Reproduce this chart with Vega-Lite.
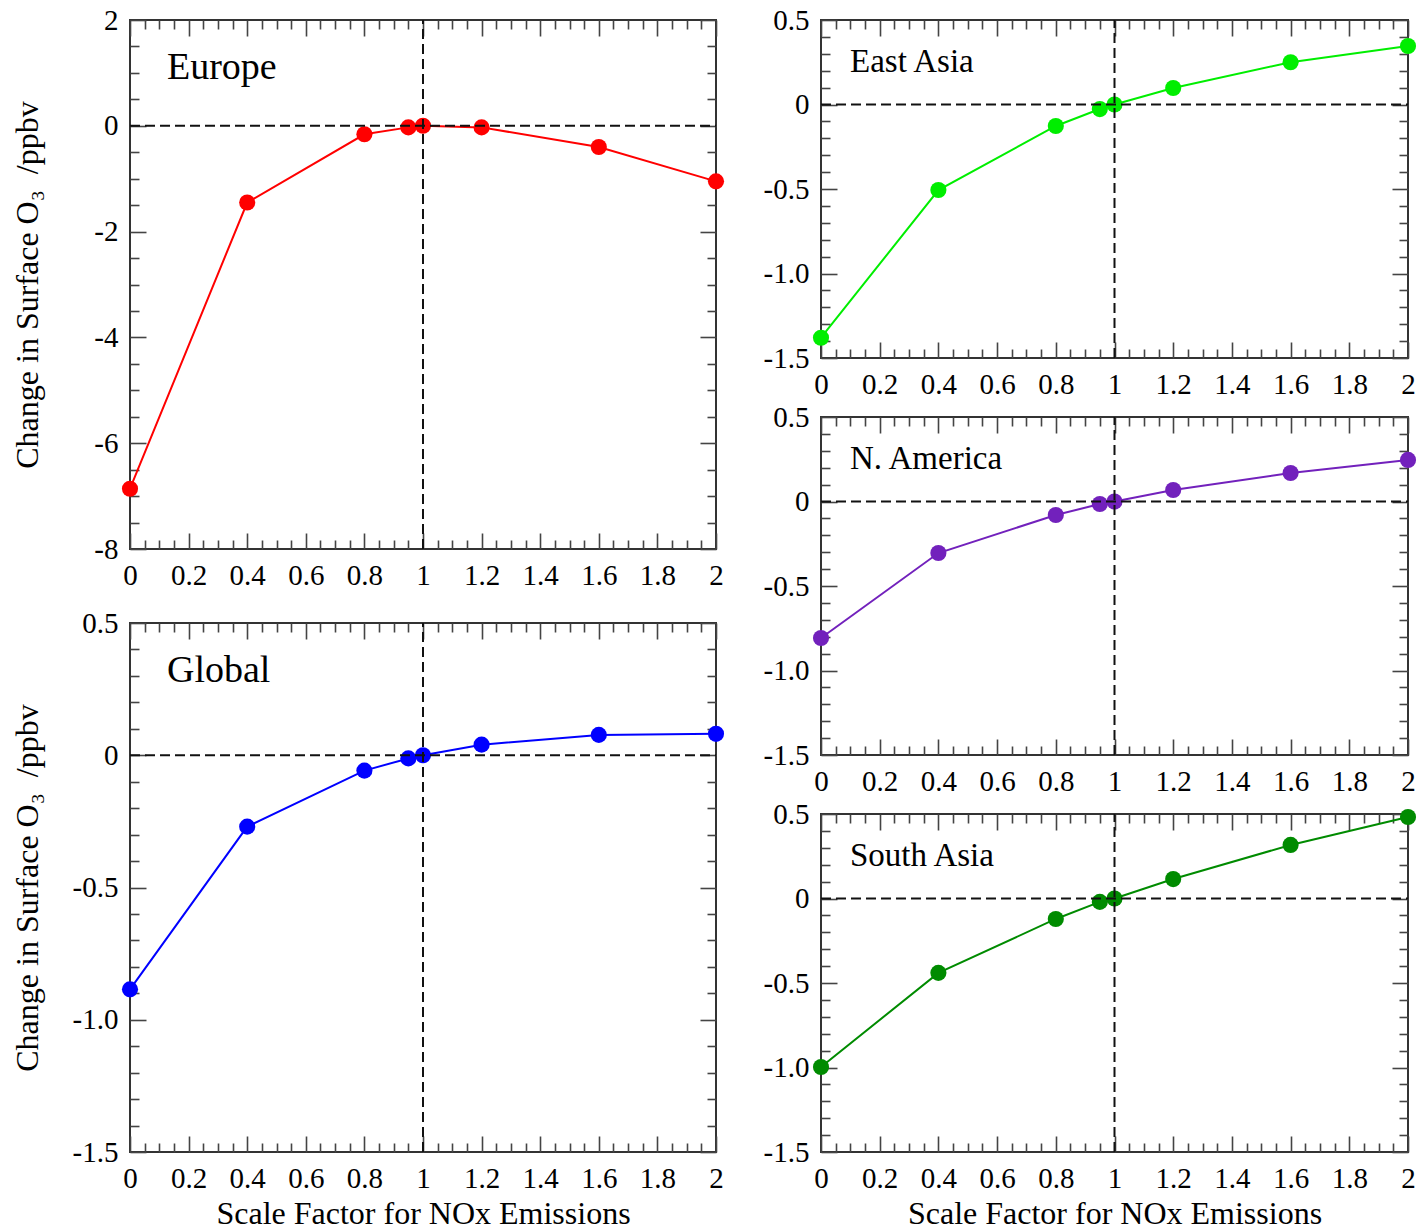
{
  "$schema": "https://vega.github.io/schema/vega-lite/v6.json",
  "background": "white",
  "padding": {"left": 9, "top": 5, "right": 5, "bottom": 2},
  "config": {
    "font": "Liberation Serif",
    "view": {"stroke": "#333333", "strokeWidth": 2},
    "axis": {
      "domain": false, "grid": false, "tickColor": "#444444", "tickWidth": 1.6,
      "labelFont": "Liberation Serif", "labelFontSize": 29, "labelColor": "black",
      "labelFlush": false, "labelOverlap": false,
      "titleFont": "Liberation Serif", "titleFontSize": 32, "titleFontWeight": "normal", "titleColor": "black"
    },
    "title": {"font": "Liberation Serif", "fontWeight": "normal", "color": "black"}
  },
  "data": {"values": [
    {"region": "Europe", "factor": 0, "o3": -6.86},
    {"region": "Europe", "factor": 0.4, "o3": -1.45},
    {"region": "Europe", "factor": 0.8, "o3": -0.16},
    {"region": "Europe", "factor": 0.95, "o3": -0.03},
    {"region": "Europe", "factor": 1, "o3": 0},
    {"region": "Europe", "factor": 1.2, "o3": -0.03},
    {"region": "Europe", "factor": 1.6, "o3": -0.4},
    {"region": "Europe", "factor": 2, "o3": -1.05},
    {"region": "Global", "factor": 0, "o3": -0.885},
    {"region": "Global", "factor": 0.4, "o3": -0.27},
    {"region": "Global", "factor": 0.8, "o3": -0.058},
    {"region": "Global", "factor": 0.95, "o3": -0.012},
    {"region": "Global", "factor": 1, "o3": 0},
    {"region": "Global", "factor": 1.2, "o3": 0.04},
    {"region": "Global", "factor": 1.6, "o3": 0.077},
    {"region": "Global", "factor": 2, "o3": 0.081},
    {"region": "East Asia", "factor": 0, "o3": -1.38},
    {"region": "East Asia", "factor": 0.4, "o3": -0.506},
    {"region": "East Asia", "factor": 0.8, "o3": -0.127},
    {"region": "East Asia", "factor": 0.95, "o3": -0.027},
    {"region": "East Asia", "factor": 1, "o3": 0},
    {"region": "East Asia", "factor": 1.2, "o3": 0.098},
    {"region": "East Asia", "factor": 1.6, "o3": 0.25},
    {"region": "East Asia", "factor": 2, "o3": 0.346},
    {"region": "N. America", "factor": 0, "o3": -0.808},
    {"region": "N. America", "factor": 0.4, "o3": -0.305},
    {"region": "N. America", "factor": 0.8, "o3": -0.08},
    {"region": "N. America", "factor": 0.95, "o3": -0.015},
    {"region": "N. America", "factor": 1, "o3": 0},
    {"region": "N. America", "factor": 1.2, "o3": 0.068},
    {"region": "N. America", "factor": 1.6, "o3": 0.169},
    {"region": "N. America", "factor": 2, "o3": 0.246},
    {"region": "South Asia", "factor": 0, "o3": -0.997},
    {"region": "South Asia", "factor": 0.4, "o3": -0.44},
    {"region": "South Asia", "factor": 0.8, "o3": -0.121},
    {"region": "South Asia", "factor": 0.95, "o3": -0.02},
    {"region": "South Asia", "factor": 1, "o3": 0},
    {"region": "South Asia", "factor": 1.2, "o3": 0.115},
    {"region": "South Asia", "factor": 1.6, "o3": 0.317},
    {"region": "South Asia", "factor": 2, "o3": 0.482}
  ]},
  "spacing": 36,
  "hconcat": [
    {
      "spacing": 74,
      "bounds": "flush",
      "vconcat": [
        {
          "width": 586, "height": 529,
          "title": {"text": "Europe", "orient": "top", "anchor": "start", "frame": "group", "offset": -81, "dx": 37, "fontSize": 38},
          "resolve": {"axis": {"x": "independent", "y": "independent"}},
          "layer": [
            {
              "transform": [{"filter": "datum.region == 'Europe'"}],
              "mark": {"type": "line", "color": "#ff0000", "strokeWidth": 2},
              "encoding": {
                "x": {"field": "factor", "type": "quantitative", "scale": {"domain": [0, 2], "nice": false, "zero": false},
                      "axis": {"orient": "bottom", "values": [0,0.2,0.4,0.6,0.8,1,1.2,1.4,1.6,1.8,2], "tickSize": -16, "labelPadding": 28, "labelExpr": "'' + datum.value", "title": null}},
                "y": {"field": "o3", "type": "quantitative", "scale": {"domain": [-8, 2], "nice": false, "zero": false},
                      "axis": {"orient": "left", "values": [-8,-6,-4,-2,0,2], "tickSize": -16, "labelPadding": 28, "labelExpr": "'' + datum.value", "title": "Change in Surface O₃\u2002/ppbv", "titleX": -86}}
              }
            },
            {
              "transform": [{"filter": "datum.region == 'Europe'"}],
              "mark": {"type": "point", "filled": true, "opacity": 1, "size": 260, "color": "#ff0000"},
              "encoding": {
                "x": {"field": "factor", "type": "quantitative", "axis": {"orient": "top", "values": [0,0.2,0.4,0.6,0.8,1,1.2,1.4,1.6,1.8,2], "tickSize": -16, "labels": false, "title": null}},
                "y": {"field": "o3", "type": "quantitative", "axis": {"orient": "right", "values": [-8,-6,-4,-2,0,2], "tickSize": -16, "labels": false, "title": null}}
              }
            },
            {
              "data": {"values": [{}]},
              "mark": {"type": "rule", "color": "#111111", "strokeWidth": 2, "strokeDash": [10, 5]},
              "encoding": {
                "x": {"datum": 0, "type": "quantitative", "axis": {"orient": "bottom", "values": [0.05,0.1,0.15,0.25,0.3,0.35,0.45,0.5,0.55,0.65,0.7,0.75,0.85,0.9,0.95,1.05,1.1,1.15,1.25,1.3,1.35,1.45,1.5,1.55,1.65,1.7,1.75,1.85,1.9,1.95], "tickSize": -9, "labels": false, "title": null}},
                "x2": {"datum": 2},
                "y": {"datum": 0, "type": "quantitative", "axis": {"orient": "left", "values": [-7.5,-7,-6.5,-5.5,-5,-4.5,-3.5,-3,-2.5,-1.5,-1,-0.5,0.5,1,1.5], "tickSize": -9, "labels": false, "title": null}}
              }
            },
            {
              "data": {"values": [{}]},
              "mark": {"type": "rule", "color": "#111111", "strokeWidth": 2, "strokeDash": [10, 5]},
              "encoding": {
                "x": {"datum": 1, "type": "quantitative", "axis": {"orient": "top", "values": [0.05,0.1,0.15,0.25,0.3,0.35,0.45,0.5,0.55,0.65,0.7,0.75,0.85,0.9,0.95,1.05,1.1,1.15,1.25,1.3,1.35,1.45,1.5,1.55,1.65,1.7,1.75,1.85,1.9,1.95], "tickSize": -9, "labels": false, "title": null}},
                "y": {"datum": -8, "type": "quantitative", "axis": {"orient": "right", "values": [-7.5,-7,-6.5,-5.5,-5,-4.5,-3.5,-3,-2.5,-1.5,-1,-0.5,0.5,1,1.5], "tickSize": -9, "labels": false, "title": null}},
                "y2": {"datum": 2}
              }
            }
          ]
        },
        {
          "width": 586, "height": 529,
          "title": {"text": "Global", "orient": "top", "anchor": "start", "frame": "group", "offset": -81, "dx": 37, "fontSize": 38},
          "resolve": {"axis": {"x": "independent", "y": "independent"}},
          "layer": [
            {
              "transform": [{"filter": "datum.region == 'Global'"}],
              "mark": {"type": "line", "color": "#0000ff", "strokeWidth": 2},
              "encoding": {
                "x": {"field": "factor", "type": "quantitative", "scale": {"domain": [0, 2], "nice": false, "zero": false},
                      "axis": {"orient": "bottom", "values": [0,0.2,0.4,0.6,0.8,1,1.2,1.4,1.6,1.8,2], "tickSize": -16, "labelPadding": 28, "labelExpr": "'' + datum.value", "title": "Scale Factor for NOx Emissions", "titlePadding": 5}},
                "y": {"field": "o3", "type": "quantitative", "scale": {"domain": [-1.5, 0.5], "nice": false, "zero": false},
                      "axis": {"orient": "left", "values": [-1.5,-1,-0.5,0,0.5], "tickSize": -16, "labelPadding": 28, "labelExpr": "datum.value == 0 ? '0' : (datum.value < 0 ? '-' : '') + format(abs(datum.value), '.1f')", "title": "Change in Surface O₃\u2002/ppbv", "titleX": -86}}
              }
            },
            {
              "transform": [{"filter": "datum.region == 'Global'"}],
              "mark": {"type": "point", "filled": true, "opacity": 1, "size": 260, "color": "#0000ff"},
              "encoding": {
                "x": {"field": "factor", "type": "quantitative", "axis": {"orient": "top", "values": [0,0.2,0.4,0.6,0.8,1,1.2,1.4,1.6,1.8,2], "tickSize": -16, "labels": false, "title": null}},
                "y": {"field": "o3", "type": "quantitative", "axis": {"orient": "right", "values": [-1.5,-1,-0.5,0,0.5], "tickSize": -16, "labels": false, "title": null}}
              }
            },
            {
              "data": {"values": [{}]},
              "mark": {"type": "rule", "color": "#111111", "strokeWidth": 2, "strokeDash": [10, 5]},
              "encoding": {
                "x": {"datum": 0, "type": "quantitative", "axis": {"orient": "bottom", "values": [0.05,0.1,0.15,0.25,0.3,0.35,0.45,0.5,0.55,0.65,0.7,0.75,0.85,0.9,0.95,1.05,1.1,1.15,1.25,1.3,1.35,1.45,1.5,1.55,1.65,1.7,1.75,1.85,1.9,1.95], "tickSize": -9, "labels": false, "title": null}},
                "x2": {"datum": 2},
                "y": {"datum": 0, "type": "quantitative", "axis": {"orient": "left", "values": [-1.4,-1.3,-1.2,-1.1,-0.9,-0.8,-0.7,-0.6,-0.4,-0.3,-0.2,-0.1,0.1,0.2,0.3,0.4], "tickSize": -9, "labels": false, "title": null}}
              }
            },
            {
              "data": {"values": [{}]},
              "mark": {"type": "rule", "color": "#111111", "strokeWidth": 2, "strokeDash": [10, 5]},
              "encoding": {
                "x": {"datum": 1, "type": "quantitative", "axis": {"orient": "top", "values": [0.05,0.1,0.15,0.25,0.3,0.35,0.45,0.5,0.55,0.65,0.7,0.75,0.85,0.9,0.95,1.05,1.1,1.15,1.25,1.3,1.35,1.45,1.5,1.55,1.65,1.7,1.75,1.85,1.9,1.95], "tickSize": -9, "labels": false, "title": null}},
                "y": {"datum": -1.5, "type": "quantitative", "axis": {"orient": "right", "values": [-1.4,-1.3,-1.2,-1.1,-0.9,-0.8,-0.7,-0.6,-0.4,-0.3,-0.2,-0.1,0.1,0.2,0.3,0.4], "tickSize": -9, "labels": false, "title": null}},
                "y2": {"datum": 0.5}
              }
            }
          ]
        }
      ]
    },
    {
      "spacing": 59,
      "bounds": "flush",
      "vconcat": [
        {
          "width": 587, "height": 338,
          "title": {"text": "East Asia", "orient": "top", "anchor": "start", "frame": "group", "offset": -73, "dx": 29, "fontSize": 33},
          "resolve": {"axis": {"x": "independent", "y": "independent"}},
          "layer": [
            {
              "transform": [{"filter": "datum.region == 'East Asia'"}],
              "mark": {"type": "line", "color": "#00ee00", "strokeWidth": 2},
              "encoding": {
                "x": {"field": "factor", "type": "quantitative", "scale": {"domain": [0, 2], "nice": false, "zero": false},
                      "axis": {"orient": "bottom", "values": [0,0.2,0.4,0.6,0.8,1,1.2,1.4,1.6,1.8,2], "tickSize": -16, "labelPadding": 28, "labelExpr": "'' + datum.value", "title": null}},
                "y": {"field": "o3", "type": "quantitative", "scale": {"domain": [-1.5, 0.5], "nice": false, "zero": false},
                      "axis": {"orient": "left", "values": [-1.5,-1,-0.5,0,0.5], "tickSize": -16, "labelPadding": 28, "labelExpr": "datum.value == 0 ? '0' : (datum.value < 0 ? '-' : '') + format(abs(datum.value), '.1f')", "title": null}}
              }
            },
            {
              "transform": [{"filter": "datum.region == 'East Asia'"}],
              "mark": {"type": "point", "filled": true, "opacity": 1, "size": 260, "color": "#00ee00"},
              "encoding": {
                "x": {"field": "factor", "type": "quantitative", "axis": {"orient": "top", "values": [0,0.2,0.4,0.6,0.8,1,1.2,1.4,1.6,1.8,2], "tickSize": -16, "labels": false, "title": null}},
                "y": {"field": "o3", "type": "quantitative", "axis": {"orient": "right", "values": [-1.5,-1,-0.5,0,0.5], "tickSize": -16, "labels": false, "title": null}}
              }
            },
            {
              "data": {"values": [{}]},
              "mark": {"type": "rule", "color": "#111111", "strokeWidth": 2, "strokeDash": [10, 5]},
              "encoding": {
                "x": {"datum": 0, "type": "quantitative", "axis": {"orient": "bottom", "values": [0.05,0.1,0.15,0.25,0.3,0.35,0.45,0.5,0.55,0.65,0.7,0.75,0.85,0.9,0.95,1.05,1.1,1.15,1.25,1.3,1.35,1.45,1.5,1.55,1.65,1.7,1.75,1.85,1.9,1.95], "tickSize": -9, "labels": false, "title": null}},
                "x2": {"datum": 2},
                "y": {"datum": 0, "type": "quantitative", "axis": {"orient": "left", "values": [-1.4,-1.3,-1.2,-1.1,-0.9,-0.8,-0.7,-0.6,-0.4,-0.3,-0.2,-0.1,0.1,0.2,0.3,0.4], "tickSize": -9, "labels": false, "title": null}}
              }
            },
            {
              "data": {"values": [{}]},
              "mark": {"type": "rule", "color": "#111111", "strokeWidth": 2, "strokeDash": [10, 5]},
              "encoding": {
                "x": {"datum": 1, "type": "quantitative", "axis": {"orient": "top", "values": [0.05,0.1,0.15,0.25,0.3,0.35,0.45,0.5,0.55,0.65,0.7,0.75,0.85,0.9,0.95,1.05,1.1,1.15,1.25,1.3,1.35,1.45,1.5,1.55,1.65,1.7,1.75,1.85,1.9,1.95], "tickSize": -9, "labels": false, "title": null}},
                "y": {"datum": -1.5, "type": "quantitative", "axis": {"orient": "right", "values": [-1.4,-1.3,-1.2,-1.1,-0.9,-0.8,-0.7,-0.6,-0.4,-0.3,-0.2,-0.1,0.1,0.2,0.3,0.4], "tickSize": -9, "labels": false, "title": null}},
                "y2": {"datum": 0.5}
              }
            }
          ]
        },
        {
          "width": 587, "height": 338,
          "title": {"text": "N. America", "orient": "top", "anchor": "start", "frame": "group", "offset": -73, "dx": 29, "fontSize": 33},
          "resolve": {"axis": {"x": "independent", "y": "independent"}},
          "layer": [
            {
              "transform": [{"filter": "datum.region == 'N. America'"}],
              "mark": {"type": "line", "color": "#7221bc", "strokeWidth": 2},
              "encoding": {
                "x": {"field": "factor", "type": "quantitative", "scale": {"domain": [0, 2], "nice": false, "zero": false},
                      "axis": {"orient": "bottom", "values": [0,0.2,0.4,0.6,0.8,1,1.2,1.4,1.6,1.8,2], "tickSize": -16, "labelPadding": 28, "labelExpr": "'' + datum.value", "title": null}},
                "y": {"field": "o3", "type": "quantitative", "scale": {"domain": [-1.5, 0.5], "nice": false, "zero": false},
                      "axis": {"orient": "left", "values": [-1.5,-1,-0.5,0,0.5], "tickSize": -16, "labelPadding": 28, "labelExpr": "datum.value == 0 ? '0' : (datum.value < 0 ? '-' : '') + format(abs(datum.value), '.1f')", "title": null}}
              }
            },
            {
              "transform": [{"filter": "datum.region == 'N. America'"}],
              "mark": {"type": "point", "filled": true, "opacity": 1, "size": 260, "color": "#7221bc"},
              "encoding": {
                "x": {"field": "factor", "type": "quantitative", "axis": {"orient": "top", "values": [0,0.2,0.4,0.6,0.8,1,1.2,1.4,1.6,1.8,2], "tickSize": -16, "labels": false, "title": null}},
                "y": {"field": "o3", "type": "quantitative", "axis": {"orient": "right", "values": [-1.5,-1,-0.5,0,0.5], "tickSize": -16, "labels": false, "title": null}}
              }
            },
            {
              "data": {"values": [{}]},
              "mark": {"type": "rule", "color": "#111111", "strokeWidth": 2, "strokeDash": [10, 5]},
              "encoding": {
                "x": {"datum": 0, "type": "quantitative", "axis": {"orient": "bottom", "values": [0.05,0.1,0.15,0.25,0.3,0.35,0.45,0.5,0.55,0.65,0.7,0.75,0.85,0.9,0.95,1.05,1.1,1.15,1.25,1.3,1.35,1.45,1.5,1.55,1.65,1.7,1.75,1.85,1.9,1.95], "tickSize": -9, "labels": false, "title": null}},
                "x2": {"datum": 2},
                "y": {"datum": 0, "type": "quantitative", "axis": {"orient": "left", "values": [-1.4,-1.3,-1.2,-1.1,-0.9,-0.8,-0.7,-0.6,-0.4,-0.3,-0.2,-0.1,0.1,0.2,0.3,0.4], "tickSize": -9, "labels": false, "title": null}}
              }
            },
            {
              "data": {"values": [{}]},
              "mark": {"type": "rule", "color": "#111111", "strokeWidth": 2, "strokeDash": [10, 5]},
              "encoding": {
                "x": {"datum": 1, "type": "quantitative", "axis": {"orient": "top", "values": [0.05,0.1,0.15,0.25,0.3,0.35,0.45,0.5,0.55,0.65,0.7,0.75,0.85,0.9,0.95,1.05,1.1,1.15,1.25,1.3,1.35,1.45,1.5,1.55,1.65,1.7,1.75,1.85,1.9,1.95], "tickSize": -9, "labels": false, "title": null}},
                "y": {"datum": -1.5, "type": "quantitative", "axis": {"orient": "right", "values": [-1.4,-1.3,-1.2,-1.1,-0.9,-0.8,-0.7,-0.6,-0.4,-0.3,-0.2,-0.1,0.1,0.2,0.3,0.4], "tickSize": -9, "labels": false, "title": null}},
                "y2": {"datum": 0.5}
              }
            }
          ]
        },
        {
          "width": 587, "height": 338,
          "title": {"text": "South Asia", "orient": "top", "anchor": "start", "frame": "group", "offset": -73, "dx": 29, "fontSize": 33},
          "resolve": {"axis": {"x": "independent", "y": "independent"}},
          "layer": [
            {
              "transform": [{"filter": "datum.region == 'South Asia'"}],
              "mark": {"type": "line", "color": "#008b00", "strokeWidth": 2},
              "encoding": {
                "x": {"field": "factor", "type": "quantitative", "scale": {"domain": [0, 2], "nice": false, "zero": false},
                      "axis": {"orient": "bottom", "values": [0,0.2,0.4,0.6,0.8,1,1.2,1.4,1.6,1.8,2], "tickSize": -16, "labelPadding": 28, "labelExpr": "'' + datum.value", "title": "Scale Factor for NOx Emissions", "titlePadding": 5}},
                "y": {"field": "o3", "type": "quantitative", "scale": {"domain": [-1.5, 0.5], "nice": false, "zero": false},
                      "axis": {"orient": "left", "values": [-1.5,-1,-0.5,0,0.5], "tickSize": -16, "labelPadding": 28, "labelExpr": "datum.value == 0 ? '0' : (datum.value < 0 ? '-' : '') + format(abs(datum.value), '.1f')", "title": null}}
              }
            },
            {
              "transform": [{"filter": "datum.region == 'South Asia'"}],
              "mark": {"type": "point", "filled": true, "opacity": 1, "size": 260, "color": "#008b00"},
              "encoding": {
                "x": {"field": "factor", "type": "quantitative", "axis": {"orient": "top", "values": [0,0.2,0.4,0.6,0.8,1,1.2,1.4,1.6,1.8,2], "tickSize": -16, "labels": false, "title": null}},
                "y": {"field": "o3", "type": "quantitative", "axis": {"orient": "right", "values": [-1.5,-1,-0.5,0,0.5], "tickSize": -16, "labels": false, "title": null}}
              }
            },
            {
              "data": {"values": [{}]},
              "mark": {"type": "rule", "color": "#111111", "strokeWidth": 2, "strokeDash": [10, 5]},
              "encoding": {
                "x": {"datum": 0, "type": "quantitative", "axis": {"orient": "bottom", "values": [0.05,0.1,0.15,0.25,0.3,0.35,0.45,0.5,0.55,0.65,0.7,0.75,0.85,0.9,0.95,1.05,1.1,1.15,1.25,1.3,1.35,1.45,1.5,1.55,1.65,1.7,1.75,1.85,1.9,1.95], "tickSize": -9, "labels": false, "title": null}},
                "x2": {"datum": 2},
                "y": {"datum": 0, "type": "quantitative", "axis": {"orient": "left", "values": [-1.4,-1.3,-1.2,-1.1,-0.9,-0.8,-0.7,-0.6,-0.4,-0.3,-0.2,-0.1,0.1,0.2,0.3,0.4], "tickSize": -9, "labels": false, "title": null}}
              }
            },
            {
              "data": {"values": [{}]},
              "mark": {"type": "rule", "color": "#111111", "strokeWidth": 2, "strokeDash": [10, 5]},
              "encoding": {
                "x": {"datum": 1, "type": "quantitative", "axis": {"orient": "top", "values": [0.05,0.1,0.15,0.25,0.3,0.35,0.45,0.5,0.55,0.65,0.7,0.75,0.85,0.9,0.95,1.05,1.1,1.15,1.25,1.3,1.35,1.45,1.5,1.55,1.65,1.7,1.75,1.85,1.9,1.95], "tickSize": -9, "labels": false, "title": null}},
                "y": {"datum": -1.5, "type": "quantitative", "axis": {"orient": "right", "values": [-1.4,-1.3,-1.2,-1.1,-0.9,-0.8,-0.7,-0.6,-0.4,-0.3,-0.2,-0.1,0.1,0.2,0.3,0.4], "tickSize": -9, "labels": false, "title": null}},
                "y2": {"datum": 0.5}
              }
            }
          ]
        }
      ]
    }
  ]
}
